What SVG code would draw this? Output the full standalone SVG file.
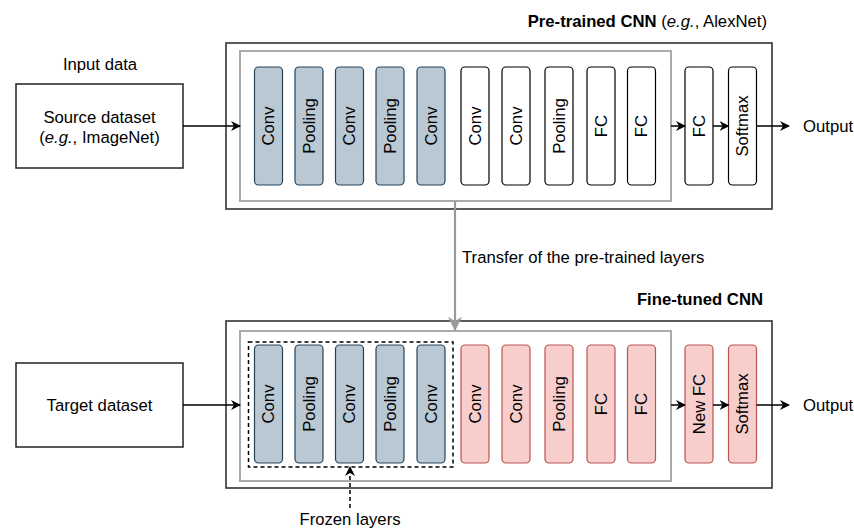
<svg xmlns="http://www.w3.org/2000/svg" width="854" height="528" viewBox="0 0 854 528">
  <defs>
    <marker id="arrow" markerWidth="10" markerHeight="10" refX="9" refY="5" orient="auto" markerUnits="userSpaceOnUse">
      <path d="M0,0 L10,5 L0,10 L3,5 z" fill="#000"/>
    </marker>
    <marker id="arrowGray" markerWidth="14" markerHeight="14" refX="13" refY="7" orient="auto" markerUnits="userSpaceOnUse">
      <path d="M0,0 L14,7 L0,14 L4,7 z" fill="#999"/>
    </marker>
    <style>
      text { font-family: "Liberation Sans", Arial, sans-serif; font-size: 16.7px; fill: #000; }
      .bold { font-weight: bold; }
      .outer { fill: #fff; stroke: #333; stroke-width: 1.6; }
      .inner { fill: none; stroke: #aaa; stroke-width: 2; }
      .data { fill: #fff; stroke: #222; stroke-width: 1.5; }
      .frozen { fill: #bac8d3; stroke: #23445d; stroke-width: 1.2; }
      .plain { fill: #fff; stroke: #000; stroke-width: 1.2; }
      .tuned { fill: #f8cecc; stroke: #b85450; stroke-width: 1.2; }
      .lbl { text-anchor: middle; dominant-baseline: central; }
      .edge { fill: none; stroke: #000; stroke-width: 1.5; marker-end: url(#arrow); }
      .dash { stroke-dasharray: 4 3; }
    </style>
  </defs>

  <!-- Pre-trained network -->
  <g id="pretrained">
    <text x="767" y="27" class="bold" text-anchor="end">Pre-trained CNN <tspan font-weight="normal">(<tspan font-style="italic">e.g.</tspan>, AlexNet)</tspan></text>
    <rect class="outer" x="226" y="43" width="546" height="166"/>
    <rect class="inner" x="240" y="51" width="431" height="150"/>
  </g>
  <g id="pt-conv1"><rect class="frozen" x="254.5" y="67" width="28" height="118" rx="4"/><text class="lbl" transform="translate(268.5,126) rotate(-90)">Conv</text></g>
  <g id="pt-pool1"><rect class="frozen" x="295" y="67" width="28" height="118" rx="4"/><text class="lbl" transform="translate(309,126) rotate(-90)">Pooling</text></g>
  <g id="pt-conv2"><rect class="frozen" x="335.5" y="67" width="28" height="118" rx="4"/><text class="lbl" transform="translate(349.5,126) rotate(-90)">Conv</text></g>
  <g id="pt-pool2"><rect class="frozen" x="376" y="67" width="28" height="118" rx="4"/><text class="lbl" transform="translate(390,126) rotate(-90)">Pooling</text></g>
  <g id="pt-conv3"><rect class="frozen" x="417" y="67" width="28" height="118" rx="4"/><text class="lbl" transform="translate(431,126) rotate(-90)">Conv</text></g>
  <g id="pt-conv4"><rect class="plain" x="461" y="67" width="28" height="118" rx="4"/><text class="lbl" transform="translate(475,126) rotate(-90)">Conv</text></g>
  <g id="pt-conv5"><rect class="plain" x="502" y="67" width="28" height="118" rx="4"/><text class="lbl" transform="translate(516,126) rotate(-90)">Conv</text></g>
  <g id="pt-pool3"><rect class="plain" x="545" y="67" width="28" height="118" rx="4"/><text class="lbl" transform="translate(559,126) rotate(-90)">Pooling</text></g>
  <g id="pt-fc1"><rect class="plain" x="587" y="67" width="28" height="118" rx="4"/><text class="lbl" transform="translate(601,126) rotate(-90)">FC</text></g>
  <g id="pt-fc2"><rect class="plain" x="627.5" y="67" width="28" height="118" rx="4"/><text class="lbl" transform="translate(641.5,126) rotate(-90)">FC</text></g>
  <g id="pt-fc3"><rect class="plain" x="685" y="67" width="28" height="118" rx="4"/><text class="lbl" transform="translate(699,126) rotate(-90)">FC</text></g>
  <g id="pt-softmax"><rect class="plain" x="728.5" y="67" width="28" height="118" rx="4"/><text class="lbl" transform="translate(742.5,126) rotate(-90)">Softmax</text></g>

  <g id="source">
    <text x="100" y="70" text-anchor="middle">Input data</text>
    <rect class="data" x="16" y="84" width="167" height="84"/>
    <text x="99.5" y="122.5" text-anchor="middle">Source dataset</text>
    <text x="99.5" y="143" text-anchor="middle">(<tspan font-style="italic">e.g.</tspan>, ImageNet)</text>
  </g>
  <g id="out-top"><text x="803" y="132">Output</text></g>

  <!-- Fine-tuned network -->
  <g id="finetuned">
    <text x="763" y="305" class="bold" text-anchor="end">Fine-tuned CNN</text>
    <rect class="outer" x="226" y="321" width="546" height="167"/>
    <rect class="inner" x="240" y="331" width="431" height="150"/>
  </g>
  <g id="frozen-group">
    <rect x="248.5" y="342" width="204.5" height="125" fill="none" stroke="#000" stroke-width="1.5" class="dash"/>
  </g>
  <g id="ft-conv1"><rect class="frozen" x="254.5" y="345" width="28" height="118" rx="4"/><text class="lbl" transform="translate(268.5,404) rotate(-90)">Conv</text></g>
  <g id="ft-pool1"><rect class="frozen" x="295" y="345" width="28" height="118" rx="4"/><text class="lbl" transform="translate(309,404) rotate(-90)">Pooling</text></g>
  <g id="ft-conv2"><rect class="frozen" x="335.5" y="345" width="28" height="118" rx="4"/><text class="lbl" transform="translate(349.5,404) rotate(-90)">Conv</text></g>
  <g id="ft-pool2"><rect class="frozen" x="376" y="345" width="28" height="118" rx="4"/><text class="lbl" transform="translate(390,404) rotate(-90)">Pooling</text></g>
  <g id="ft-conv3"><rect class="frozen" x="417" y="345" width="28" height="118" rx="4"/><text class="lbl" transform="translate(431,404) rotate(-90)">Conv</text></g>
  <g id="ft-conv4"><rect class="tuned" x="461" y="345" width="28" height="118" rx="4"/><text class="lbl" transform="translate(475,404) rotate(-90)">Conv</text></g>
  <g id="ft-conv5"><rect class="tuned" x="502" y="345" width="28" height="118" rx="4"/><text class="lbl" transform="translate(516,404) rotate(-90)">Conv</text></g>
  <g id="ft-pool3"><rect class="tuned" x="545" y="345" width="28" height="118" rx="4"/><text class="lbl" transform="translate(559,404) rotate(-90)">Pooling</text></g>
  <g id="ft-fc1"><rect class="tuned" x="587" y="345" width="28" height="118" rx="4"/><text class="lbl" transform="translate(601,404) rotate(-90)">FC</text></g>
  <g id="ft-fc2"><rect class="tuned" x="627.5" y="345" width="28" height="118" rx="4"/><text class="lbl" transform="translate(641.5,404) rotate(-90)">FC</text></g>
  <g id="ft-newfc"><rect class="tuned" x="685" y="345" width="28" height="118" rx="4"/><text class="lbl" transform="translate(699,404) rotate(-90)">New FC</text></g>
  <g id="ft-softmax"><rect class="tuned" x="728.5" y="345" width="28" height="118" rx="4"/><text class="lbl" transform="translate(742.5,404) rotate(-90)">Softmax</text></g>

  <g id="target">
    <rect class="data" x="16" y="363" width="167" height="84"/>
    <text x="99.5" y="411" text-anchor="middle">Target dataset</text>
  </g>
  <g id="out-bottom"><text x="803" y="411">Output</text></g>
  <g id="frozen-label"><text x="350" y="525" text-anchor="middle">Frozen layers</text></g>
  <g id="transfer-label"><text x="462" y="263">Transfer of the pre-trained layers</text></g>

  <!-- Connectors -->
  <g id="connectors">
    <line class="edge" x1="183" y1="126" x2="240" y2="126"/>
    <line class="edge" x1="671" y1="126" x2="685" y2="126"/>
    <line class="edge" x1="713" y1="126" x2="728.5" y2="126"/>
    <line class="edge" x1="756.5" y1="126" x2="789" y2="126"/>
    <line class="edge" x1="183" y1="405" x2="240" y2="405"/>
    <line class="edge" x1="671" y1="405" x2="685" y2="405"/>
    <line class="edge" x1="713" y1="405" x2="728.5" y2="405"/>
    <line class="edge" x1="756.5" y1="405" x2="789" y2="405"/>
    <line class="edge dash" x1="350" y1="508" x2="350" y2="467"/>
    <line x1="455" y1="201" x2="455" y2="330" fill="none" stroke="#999" stroke-width="2.2" marker-end="url(#arrowGray)"/>
  </g>
</svg>
